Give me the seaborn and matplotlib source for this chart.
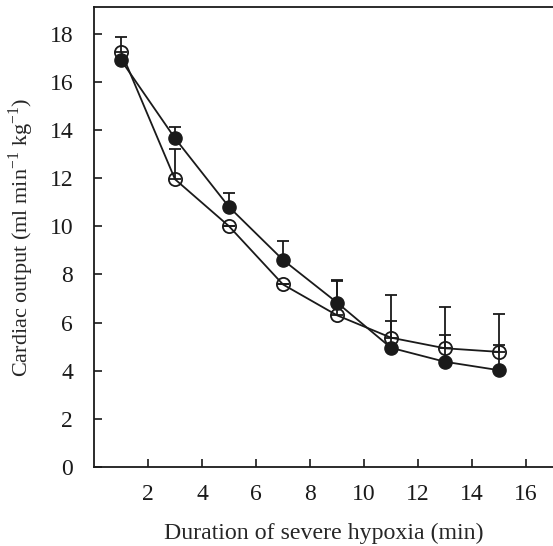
import matplotlib
matplotlib.use("Agg")
import matplotlib.pyplot as plt
import seaborn as sns
import pandas as pd
import numpy as np

sns.set_style("ticks")
plt.rcParams['font.family'] = ['Liberation Serif', 'DejaVu Serif']
plt.rcParams['mathtext.fontset'] = 'custom'
plt.rcParams['mathtext.rm'] = 'Liberation Serif'

minutes = [1, 3, 5, 7, 9, 11, 13, 15]
filled_vals = [16.9, 13.65, 10.8, 8.6, 6.83, 4.95, 4.37, 4.02]
filled_err = [0.0, 0.45, 0.6, 0.8, 0.9, 1.1, 1.13, 1.04]
open_vals = [17.25, 11.95, 10.0, 7.58, 6.3, 5.37, 4.93, 4.78]
open_err = [0.6, 1.25, 0.0, 0.0, 1.45, 1.77, 1.7, 1.58]
x_ticks = [2, 4, 6, 8, 10, 12, 14, 16]
y_ticks = [0, 2, 4, 6, 8, 10, 12, 14, 16, 18]

fig = plt.figure(figsize=(5.53, 5.46), dpi=100)
ax = fig.add_axes([0.170, 0.1447, 0.83, 0.8423])

df_open = pd.DataFrame({"x": minutes, "y": open_vals})
df_filled = pd.DataFrame({"x": minutes, "y": filled_vals})

# error bars (upper only)
ax.errorbar(minutes, open_vals, yerr=[np.zeros(len(open_err)), open_err], fmt='none',
            ecolor='#1a1a1a', elinewidth=1.3, capsize=4, capthick=1.3, zorder=2)
ax.errorbar(minutes, filled_vals, yerr=[np.zeros(len(filled_err)), filled_err], fmt='none',
            ecolor='#1a1a1a', elinewidth=1.3, capsize=4, capthick=1.3, zorder=2)

sns.lineplot(data=df_open, x="x", y="y", ax=ax, color='#1a1a1a', linewidth=1.3,
             marker='o', markersize=9.5, markerfacecolor='none', markeredgecolor='#1a1a1a',
             markeredgewidth=1.3, zorder=3)
sns.lineplot(data=df_filled, x="x", y="y", ax=ax, color='#1a1a1a', linewidth=1.3,
             marker='o', markersize=9.5, markerfacecolor='#1a1a1a', markeredgecolor='#1a1a1a',
             markeredgewidth=1.0, zorder=4)

ax.set_xlim(0, 17)
ax.set_ylim(0, 19.1)
ax.set_xticks(x_ticks)
ax.set_yticks(y_ticks)
ax.tick_params(direction='in', length=6, width=1.2, labelsize=17, colors='#1a1a1a')
ax.tick_params(axis='y', pad=15)
ax.tick_params(axis='x', pad=12)
for s in ['left', 'bottom', 'top']:
    ax.spines[s].set_linewidth(1.3)
    ax.spines[s].set_color('#1a1a1a')
ax.spines['right'].set_visible(False)
ax.set_xlabel("Duration of severe hypoxia (min)", fontsize=17.2, labelpad=13)
ax.set_ylabel(r"Cardiac output (ml min$^{-1}$ kg$^{-1}$)", fontsize=16, labelpad=10)

fig.savefig("out.png", dpi=100)
